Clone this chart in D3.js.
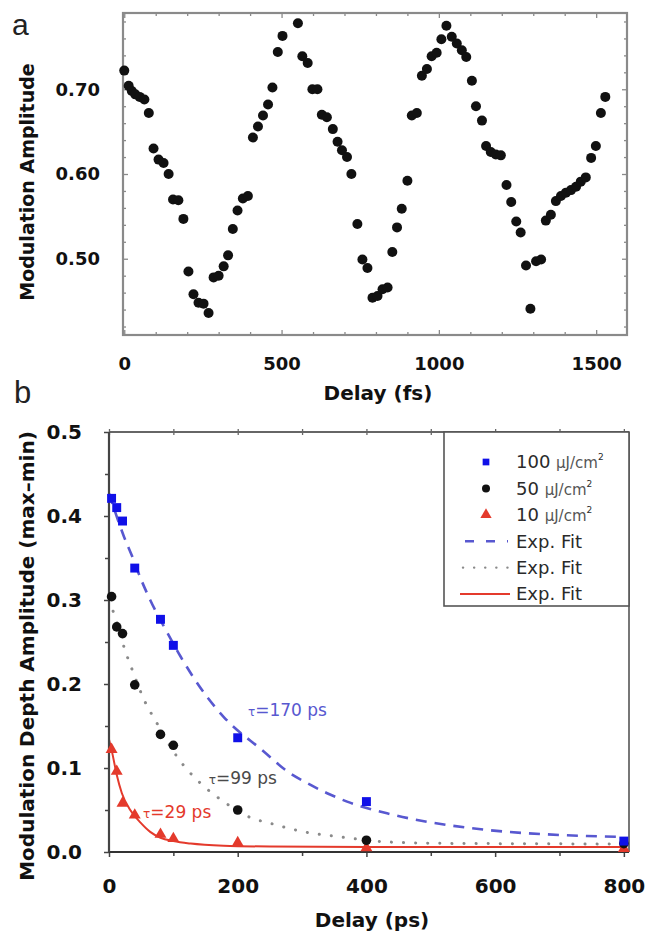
<!DOCTYPE html>
<html>
<head>
<meta charset="utf-8">
<script src="https://cdn.jsdelivr.net/npm/d3@7"></script>
<style>
  body { margin: 0; background: #fff; }
  svg { display: block; }
</style>
</head>
<body>
<script>
// ---- panel a: modulation amplitude vs delay (fs) ----
const delayFs = [0, 14, 24, 35, 49, 64, 78, 93, 109, 125, 141, 155, 172, 188, 204, 220, 236, 252, 268, 284,
  300, 316, 330, 345, 360, 377, 393, 409, 425, 441, 457, 471, 488, 503, 552, 566, 583, 598, 614, 628,
  644, 663, 678, 692, 708, 722, 741, 757, 773, 789, 805, 821, 837, 852, 867, 882, 900, 914, 930, 946,
  962, 977, 993, 1008, 1024, 1041, 1057, 1073, 1087, 1105, 1118, 1137, 1150, 1165, 1181, 1197, 1215, 1230, 1246, 1260,
  1277, 1291, 1309, 1325, 1340, 1356, 1372, 1388, 1404, 1420, 1436, 1451, 1467, 1484, 1499, 1515, 1529];
const modAmp = [0.722, 0.704, 0.698, 0.694, 0.691, 0.688, 0.672, 0.630, 0.617, 0.613, 0.600, 0.570, 0.569, 0.547, 0.485, 0.458, 0.448, 0.447, 0.436, 0.478,
  0.480, 0.491, 0.504, 0.535, 0.557, 0.571, 0.574, 0.643, 0.656, 0.669, 0.682, 0.702, 0.744, 0.763, 0.778, 0.739, 0.731, 0.700, 0.700, 0.670,
  0.667, 0.653, 0.638, 0.628, 0.620, 0.600, 0.541, 0.499, 0.489, 0.454, 0.456, 0.464, 0.466, 0.508, 0.537, 0.559, 0.592, 0.669, 0.672, 0.716,
  0.724, 0.739, 0.743, 0.759, 0.775, 0.762, 0.754, 0.746, 0.738, 0.710, 0.680, 0.663, 0.633, 0.626, 0.623, 0.622, 0.587, 0.567, 0.544, 0.531,
  0.492, 0.441, 0.497, 0.499, 0.545, 0.552, 0.568, 0.574, 0.578, 0.581, 0.585, 0.591, 0.596, 0.619, 0.633, 0.672, 0.691];
const xTicksA = [0, 500, 1000, 1500];
const yTicksA = [0.50, 0.60, 0.70];

// ---- panel b: modulation depth vs delay (ps) ----
const delayPs = [4, 12, 21, 40, 80, 100, 200, 400, 800];
const depth100 = [0.421, 0.410, 0.394, 0.338, 0.277, 0.246, 0.136, 0.060, 0.013];
const depth50 = [0.304, 0.268, 0.260, 0.199, 0.140, 0.127, 0.050, 0.014, 0.010];
const depth10 = [0.122, 0.096, 0.058, 0.044, 0.021, 0.016, 0.011, 0.005, 0.004];

// fit curves
const fit100Ps = [0, 23, 36, 49, 64, 90, 111, 152, 178, 240, 277, 308, 339, 370, 432, 494, 556, 619, 681, 743, 800];
const fit100 = [0.427, 0.376, 0.352, 0.326, 0.300, 0.262, 0.233, 0.185, 0.161, 0.120, 0.096, 0.082, 0.070, 0.060, 0.046, 0.036, 0.029, 0.024, 0.021, 0.019, 0.018];
const fit50Ps = [0, 8, 25, 38, 54, 74, 108, 142, 178, 217, 256, 310, 349, 385, 422, 500, 600, 700, 800];
const fit50 = [0.300, 0.283, 0.240, 0.213, 0.182, 0.154, 0.111, 0.082, 0.060, 0.042, 0.033, 0.023, 0.019, 0.0155, 0.0125, 0.0105, 0.0100, 0.0097, 0.0095];
const fit10Ps = [0, 5, 12, 20, 33, 49, 64, 80, 100, 127, 178, 250, 400, 800];
const fit10 = [0.134, 0.118, 0.092, 0.070, 0.050, 0.035, 0.024, 0.017, 0.013, 0.010, 0.0075, 0.0065, 0.006, 0.006];

const xTicksB = [0, 200, 400, 600, 800];
const yTicksB = [0, 0.1, 0.2, 0.3, 0.4, 0.5];
const legendLabels = ["100 μJ/cm", "50 μJ/cm", "10 μJ/cm", "Exp. Fit", "Exp. Fit", "Exp. Fit"];
const tauLabels = ["=170 ps", "=99 ps", "=29 ps"];

const blue = "#1010e8", blueFit = "#5858d0", grey = "#8a8a8a", red = "#e43a2c";
const tickFont = "DejaVu Sans, sans-serif";

const svg = d3.select("body").append("svg")
  .attr("width", 650)
  .attr("height", 932);

svg.append("rect").attr("width", 650).attr("height", 932).attr("fill", "#fff");

// draw an axis with styled ticks
function drawAxis(axis, translate, opts) {
  const g = svg.append("g")
    .attr("transform", translate)
    .call(axis);
  g.select(".domain").remove();
  g.selectAll(".tick line").attr("stroke", opts.color).attr("stroke-width", opts.width || 1.3);
  g.selectAll(".tick text")
    .attr("fill", "#111")
    .attr("font-family", tickFont)
    .attr("font-weight", "bold")
    .attr("font-size", opts.fontSize || 18);
  return g;
}

// =================== Panel a ===================
const xA = d3.scaleLinear().domain([-4, 1598]).range([123, 627]);
const yA = d3.scaleLinear().domain([0.41, 0.79]).range([335, 13]);

const minorXA = d3.range(0, 1600, 100).filter(v => !xTicksA.includes(v));
const minorYA = d3.range(0.42, 0.79, 0.02).filter(v => Math.abs((v * 10) % 1) > 0.01 && Math.abs((v * 10) % 1) < 0.99);

svg.append("rect")
  .attr("x", xA.range()[0]).attr("y", yA.range()[1])
  .attr("width", xA.range()[1] - xA.range()[0])
  .attr("height", yA.range()[0] - yA.range()[1])
  .attr("fill", "none").attr("stroke", "#8a8a8a").attr("stroke-width", 2.2);

const tA = { color: "#8a8a8a" };
// bottom
drawAxis(d3.axisBottom(xA).tickValues(xTicksA).tickSize(-5).tickPadding(22).tickFormat(d3.format("d")), `translate(0,${yA.range()[0]})`, tA);
drawAxis(d3.axisBottom(xA).tickValues(minorXA).tickSize(-3).tickFormat(""), `translate(0,${yA.range()[0]})`, tA);
// top
drawAxis(d3.axisTop(xA).tickValues(xTicksA).tickSize(-5).tickFormat(""), `translate(0,${yA.range()[1]})`, tA);
drawAxis(d3.axisTop(xA).tickValues(minorXA).tickSize(-3).tickFormat(""), `translate(0,${yA.range()[1]})`, tA);
// left
drawAxis(d3.axisLeft(yA).tickValues(yTicksA).tickSize(-5).tickPadding(23).tickFormat(d3.format(".2f")), `translate(${xA.range()[0]},0)`, tA);
drawAxis(d3.axisLeft(yA).tickValues(minorYA).tickSize(-3).tickFormat(""), `translate(${xA.range()[0]},0)`, tA);
// right
drawAxis(d3.axisRight(yA).tickValues(yTicksA).tickSize(-5).tickFormat(""), `translate(${xA.range()[1]},0)`, tA);
drawAxis(d3.axisRight(yA).tickValues(minorYA).tickSize(-3).tickFormat(""), `translate(${xA.range()[1]},0)`, tA);

svg.append("g").selectAll("circle")
  .data(delayFs.map((d, i) => [d, modAmp[i]]))
  .enter()
  .append("circle")
  .attr("cx", d => xA(d[0]))
  .attr("cy", d => yA(d[1]))
  .attr("r", 5)
  .attr("fill", "#111");

svg.append("text")
  .attr("x", 378).attr("y", 400)
  .attr("text-anchor", "middle")
  .attr("font-family", tickFont).attr("font-weight", "bold").attr("font-size", 20)
  .attr("fill", "#111")
  .text("Delay (fs)");

svg.append("text")
  .attr("transform", "translate(27,182) rotate(-90)")
  .attr("dy", "0.35em")
  .attr("text-anchor", "middle")
  .attr("font-family", tickFont).attr("font-weight", "bold").attr("font-size", 19)
  .attr("fill", "#111")
  .text("Modulation Amplitude");

svg.append("text")
  .attr("x", 12).attr("y", 35)
  .attr("font-family", "Liberation Sans, Arial, sans-serif").attr("font-size", 30)
  .attr("fill", "#222")
  .text("a");

// =================== Panel b ===================
const xB = d3.scaleLinear().domain([0, 808]).range([109, 629]);
const yB = d3.scaleLinear().domain([0, 0.5]).range([852, 432]);

const minorXB = d3.range(100, 808, 200);
const minorYB = d3.range(0.05, 0.5, 0.1);

const [bx0, bx1] = xB.range();
const [by0, by1] = yB.range();

// frame: top and right grey, left and bottom dark
svg.append("line").attr("x1", bx0).attr("x2", bx1).attr("y1", by1).attr("y2", by1).attr("stroke", "#666").attr("stroke-width", 2);
svg.append("line").attr("x1", bx1).attr("x2", bx1).attr("y1", by1).attr("y2", by0).attr("stroke", "#777").attr("stroke-width", 2);

const tB = { color: "#444", fontSize: 20, width: 1.5 };
drawAxis(d3.axisBottom(xB).tickValues(xTicksB).tickSize(5).tickPadding(22).tickFormat(d3.format("d")), `translate(0,${by0})`, tB);
drawAxis(d3.axisBottom(xB).tickValues(minorXB).tickSize(4).tickFormat(""), `translate(0,${by0})`, tB);
drawAxis(d3.axisLeft(yB).tickValues(yTicksB).tickSize(5).tickPadding(22).tickFormat(d3.format(".1f")), `translate(${bx0},0)`, tB);
drawAxis(d3.axisLeft(yB).tickValues(minorYB).tickSize(4).tickFormat(""), `translate(${bx0},0)`, tB);
// top ticks crossing the frame line
drawAxis(d3.axisTop(xB).tickValues(xTicksB.concat(minorXB)).tickSize(3).tickFormat(""), `translate(0,${by1})`, { color: "#666" });
drawAxis(d3.axisTop(xB).tickValues(xTicksB.concat(minorXB)).tickSize(-3).tickFormat(""), `translate(0,${by1})`, { color: "#666" });

// fit curves
const clip = svg.append("clipPath").attr("id", "clipB")
  .append("rect").attr("x", bx0).attr("y", by1).attr("width", bx1 - bx0).attr("height", by0 - by1);

const fitLine = d3.line()
  .x(d => xB(d[0]))
  .y(d => yB(d[1]))
  .curve(d3.curveMonotoneX);

const fits = svg.append("g").attr("clip-path", "url(#clipB)");

fits.append("path")
  .attr("d", fitLine(fit100Ps.map((d, i) => [d, fit100[i]])))
  .attr("fill", "none").attr("stroke", blueFit).attr("stroke-width", 2.6)
  .attr("stroke-dasharray", "11,8");

fits.append("path")
  .attr("d", fitLine(fit50Ps.map((d, i) => [d, fit50[i]])))
  .attr("fill", "none").attr("stroke", grey).attr("stroke-width", 3)
  .attr("stroke-linecap", "round")
  .attr("stroke-dasharray", "0.1,12");

fits.append("path")
  .attr("d", fitLine(fit10Ps.map((d, i) => [d, fit10[i]])))
  .attr("fill", "none").attr("stroke", red).attr("stroke-width", 2);

// x axis line and left axis line (dark)
svg.append("line").attr("x1", bx0).attr("x2", bx1).attr("y1", by0).attr("y2", by0).attr("stroke", "#333").attr("stroke-width", 2.2);
svg.append("line").attr("x1", bx0).attr("x2", bx0).attr("y1", by1).attr("y2", by0).attr("stroke", "#444").attr("stroke-width", 2.2);

// data markers
const pts = svg.append("g");
pts.selectAll(".tri")
  .data(delayPs.map((d, i) => [d, depth10[i]]))
  .enter().append("path")
  .attr("transform", d => `translate(${xB(d[0])},${yB(d[1])})`)
  .attr("d", d3.symbol(d3.symbolTriangle).size(62))
  .attr("fill", red);

pts.selectAll(".dot")
  .data(delayPs.map((d, i) => [d, depth50[i]]))
  .enter().append("circle")
  .attr("cx", d => xB(d[0]))
  .attr("cy", d => yB(d[1]))
  .attr("r", 4.8)
  .attr("fill", "#111");

pts.selectAll(".sq")
  .data(delayPs.map((d, i) => [d, depth100[i]]))
  .enter().append("path")
  .attr("transform", d => `translate(${xB(d[0])},${yB(d[1])})`)
  .attr("d", d3.symbol(d3.symbolSquare).size(80))
  .attr("fill", blue);

// tau annotations
const tauColors = [blueFit, "#4a4a4a", red];
const tauAt = [[216, 0.162], [155, 0.081], [53, 0.041]];
tauLabels.forEach((lab, i) => {
  const t = svg.append("text")
    .attr("x", xB(tauAt[i][0])).attr("y", yB(tauAt[i][1]))
    .attr("font-family", tickFont).attr("font-size", 17)
    .attr("fill", tauColors[i]);
  t.append("tspan").attr("font-size", 12).text("τ");
  t.append("tspan").text(lab);
});

// legend
const legX = 444, legY = by1, legW = bx1 - 444, legH = 174;
svg.append("rect")
  .attr("x", legX).attr("y", legY).attr("width", legW).attr("height", legH)
  .attr("fill", "#fff").attr("stroke", "#555").attr("stroke-width", 1.6);

const rowY = i => legY + 30 + i * 26.4;
const leg = svg.append("g");
leg.append("path").attr("transform", `translate(486,${rowY(0)})`).attr("d", d3.symbol(d3.symbolSquare).size(45)).attr("fill", blue);
leg.append("circle").attr("cx", 486).attr("cy", rowY(1)).attr("r", 4).attr("fill", "#111");
leg.append("path").attr("transform", `translate(486,${rowY(2)})`).attr("d", d3.symbol(d3.symbolTriangle).size(55)).attr("fill", red);
leg.append("line").attr("x1", 463).attr("x2", 508).attr("y1", rowY(3)).attr("y2", rowY(3))
  .attr("stroke", blueFit).attr("stroke-width", 2.4).attr("stroke-dasharray", "9,12").attr("stroke-dashoffset", -2);
leg.append("line").attr("x1", 463).attr("x2", 508).attr("y1", rowY(4)).attr("y2", rowY(4))
  .attr("stroke", grey).attr("stroke-width", 2.4).attr("stroke-linecap", "round").attr("stroke-dasharray", "0.1,11");
leg.append("line").attr("x1", 460).attr("x2", 510).attr("y1", rowY(5)).attr("y2", rowY(5))
  .attr("stroke", red).attr("stroke-width", 2);

legendLabels.forEach((lab, i) => {
  const t = leg.append("text")
    .attr("x", 516).attr("y", rowY(i)).attr("dy", "0.36em")
    .attr("font-family", tickFont).attr("font-size", 18)
    .attr("fill", "#2a2a2a");
  if (i < 3) {
    const parts = lab.split(" ");
    t.append("tspan").text(parts[0] + " ");
    t.append("tspan").attr("font-size", 15).attr("fill", "#555").text(parts[1]);
    t.append("tspan").attr("font-size", 9).attr("dy", "-0.9em").text("2");
  } else {
    t.text(lab);
  }
});

svg.append("text")
  .attr("x", 372).attr("y", 927)
  .attr("text-anchor", "middle")
  .attr("font-family", tickFont).attr("font-weight", "bold").attr("font-size", 20)
  .attr("fill", "#111")
  .text("Delay (ps)");

svg.append("text")
  .attr("transform", "translate(27,656) rotate(-90)")
  .attr("dy", "0.35em")
  .attr("text-anchor", "middle")
  .attr("font-family", tickFont).attr("font-weight", "bold").attr("font-size", 20)
  .attr("fill", "#111")
  .text("Modulation Depth Amplitude (max\u2013min)");

svg.append("text")
  .attr("x", 14).attr("y", 403)
  .attr("font-family", "Liberation Sans, Arial, sans-serif").attr("font-size", 31)
  .attr("fill", "#222")
  .text("b");
</script>
</body>
</html>
